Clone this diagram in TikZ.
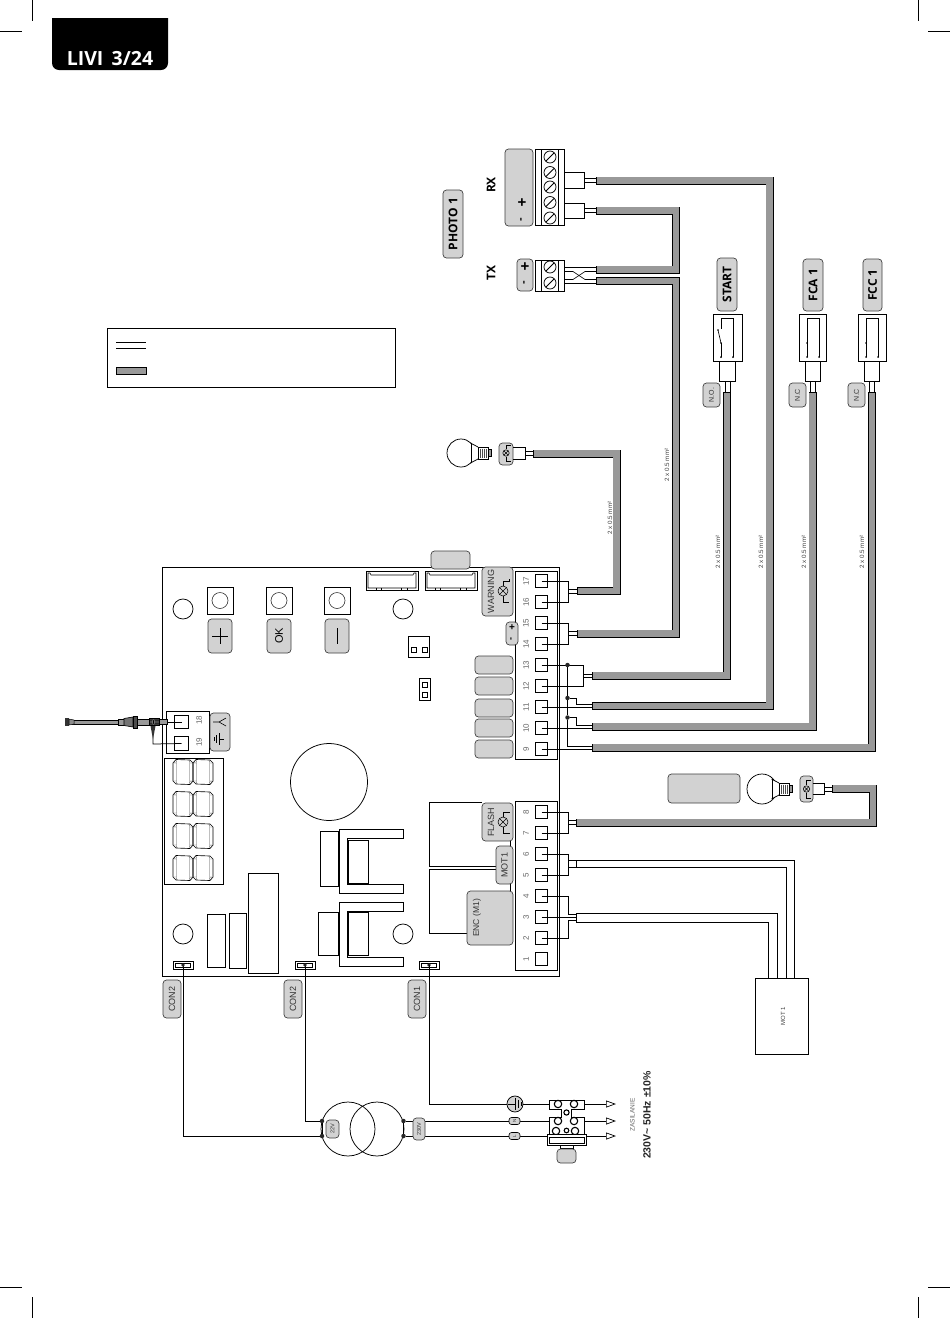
\documentclass[tikz,border=0pt]{standalone}
\usepackage{fontspec}
\setmainfont{Liberation Sans}
\newfontfamily\lato{Open Sans}
\usetikzlibrary{arrows.meta}
\definecolor{lab}{HTML}{D2D2D2}
\definecolor{cab}{HTML}{999999}
\definecolor{txt}{HTML}{333333}
\tikzset{
 ln/.style={line width=.75pt,black},
 glab/.style={draw=black!75,line width=.7pt,fill=lab,rounded corners=3.5pt},
 gtext/.style={rotate=90,inner sep=0pt,text=txt,font=\fontsize{8.5}{9}\selectfont},
 btext/.style={rotate=90,inner sep=0pt,text=black,font=\lato\bfseries\fontsize{12}{13}\selectfont},
 num/.style={rotate=90,inner sep=0pt,text=black!60,font=\fontsize{8}{8}\selectfont},
 sect/.style={rotate=90,inner sep=0pt,text=black!75,font=\fontsize{6.2}{7}\selectfont},
 term/.style={draw=black,line width=.75pt,fill=white,minimum size=12.5pt,inner sep=0pt},
 dot/.style={circle,fill=black!85,inner sep=0pt,minimum size=4.5pt},
 opentip/.style={-{Triangle[open,length=10pt,width=7pt,line width=.7pt]}},
 cabo/.style={line width=8pt,black,miter limit=10},
 cabi/.style={line width=6.6pt,cab,shorten <=.7pt,shorten >=.7pt,miter limit=10},
}
\newcommand{\cabl}[1]{\draw[cabo] #1; \draw[cabi] #1;}
\newcommand{\glab}[7]{\path[glab] (#2,#3) rectangle (#4,#5) node[midway,#6] (#1) {#7};}
\newcommand{\lampsym}[3]{%
 \draw[ln,line width=.55pt] (#1,#2) circle (#3);
 \draw[ln,line width=.45pt] (#1,#2)++(-.7*#3,-.7*#3) -- ++(1.4*#3,1.4*#3) (#1,#2)++(-.7*#3,.7*#3) -- ++(1.4*#3,-1.4*#3);}
\newcommand{\bulb}[3]{%
 \begin{scope}[shift={(#1,#2)}]
  \draw[ln,fill=white] (0,0) circle (#3);
  \fill[white] (10,-9) -- (17,-6) -- (17,6) -- (10,9) -- cycle;
  \draw[ln] (9.5,-10) -- (17,-6) (9.5,10) -- (17,6);
  \draw[ln,line width=.6pt] (10,-10) -- (10,10);
  \draw[ln,fill=white] (17,-6) rectangle (27,6);
  \foreach \q in {19,21,23,25} \draw[line width=.6pt,black!70] (\q,-4.5) -- (\q,4.5);
  \draw[ln,fill=black!40] (27,-3.5) rectangle (30,3.5);
 \end{scope}}
\newcommand{\digit}[2]{%
 \begin{scope}[shift={(#1,#2)}]
  \draw[ln,line width=.65pt] (-7,-12.5) -- (7,-12) -- (10,-9) -- (10,9) -- (7,12.5) -- (-7,12) -- (-10,9) -- (-10,-9) -- cycle;
  \draw[line width=.45pt,black!70] (-6.5,-9) -- (-6.5,9) (6.5,-9) -- (6.5,9) (-10,-9.3) -- (-7,-9) (7,-9) -- (10,-9) (-10,9) -- (-7,9) (7,9) -- (10,9.3);
  \draw[line width=.45pt,black!70] (-7,-12) -- (-6.5,-9.5) (7,-12) -- (6.5,-9.5) (-7,12) -- (-6.5,9.5) (7,12) -- (6.5,9.5);
 \end{scope}}
\newcommand{\consm}[1]{%
 \begin{scope}[shift={(#1,965)}]
  \draw[ln] (-10,-4) rectangle (10,4);
  \draw[ln,line width=.5pt] (-7.5,-1.5) -- (7.5,-1.5) -- (7.5,2) -- (-7.5,2) -- cycle;
 \end{scope}}
\newcommand{\contop}[1]{%
 \begin{scope}[shift={(#1,571)}]
  \draw[ln] (0,0) rectangle (52,19);
  \draw[ln,line width=.6pt] (2,2) -- (4,2) -- (5,4) -- (47,4) -- (48,2) -- (50,2) -- (50,17) -- (2,17) -- cycle;
  \draw[ln,line width=.5pt] (10,17) -- (10,19) (15,17) -- (15,19) (35,17) -- (35,19) (41,17) -- (41,19);
 \end{scope}}
\newcommand{\switchbox}[7]{%
 \draw[ln] (#2,314) rectangle (#3,361);
 \coordinate (#1a) at ({#2+8},357); \coordinate (#1b) at ({#2+20},357);
 \draw[ln,line width=.65pt] (#1a) -- ({#2+8},343);
 \draw[ln,line width=.65pt] (#1b) -- ({#2+20},318) -- ({#2+8},318) -- ({#2+8},329);
 \fill (#1a) circle (1pt) (#1b) circle (1pt) ({#2+8},343) circle (.9pt);
 \draw[ln] (#4,361) -- (#4,381) -- (#5,381) -- (#5,361);
 \draw[ln] (#6,381) -- (#6,392) (#7,381) -- (#7,392);
 }
\begin{document}
\begin{tikzpicture}[x=1pt,y=-1pt]
\useasboundingbox (0,0) rectangle (950,1318);
\fill[white] (0,0) rectangle (950,1318);

% crop marks
\foreach \a/\b/\c/\d in {0/31/22/31,32/0/32/21,928/31/950/31,918/0/918/21,0/1287/22/1287,32/1297/32/1318,928/1287/950/1287,918/1297/918/1318}
 \draw[line width=.5pt] (\a,\b) -- (\c,\d);

% title tab
\fill[black] (52,18) -- (168,18) -- (168,63) arc[start angle=0,end angle=90,radius=7] -- (59,70) arc[start angle=90,end angle=180,radius=7] -- cycle;
\node[text=white,inner sep=0pt,font=\lato\bfseries\fontsize{19.5}{20}\selectfont] (title) at (110,58.5) {LIVI\, 3/24};

% legend
\draw[ln] (107,328) rectangle (395,387);
\draw[ln] (116,342) -- (146,342) (116,348) -- (146,348);
\cabl{(116,371) -- (147,371)}

% PCB
\draw[ln,fill=white] (162,567) rectangle (559.5,976);
\path[glab] (431,551) rectangle (470,569) node[midway,inner sep=0pt] (tab) {};
\contop{366}\contop{425}

% holes
\foreach \n/\x/\y in {h1/183/609,h2/403/609,h3/183/934,h4/403/934}
 \node[draw=black,line width=.75pt,circle,minimum size=20pt,inner sep=0pt] (\n) at (\x,\y) {};
\node[draw=black,line width=.75pt,circle,minimum size=77pt,inner sep=0pt] (bigcap) at (329,782) {};

% buttons
\foreach \n/\x in {ba/220,bb/279,bc/337}{
 \node[draw=black,line width=.75pt,minimum width=26pt,minimum height=27pt,inner sep=0pt] (\n) at (\x,600.5) {};
 \draw[line width=.6pt,black!80] (\x,600.5) circle (8);
}
\glab{bp}{208}{619}{232}{653}{inner sep=0}{}
\glab{bo}{267}{619}{291}{653}{rotate=90,inner sep=0pt,font=\fontsize{11}{11}\selectfont}{OK}
\glab{bm}{325}{619}{349}{653}{inner sep=0}{}
\draw[line width=.6pt] (212,636) -- (228,636) (220,628) -- (220,644);
\draw[line width=.6pt] (337,628) -- (337,644);

% jumpers
\draw[ln] (408,636) rectangle (429,657);
\draw[ln,line width=.6pt] (411,647) rectangle (416,652) (422,647) rectangle (427,652);
\draw[ln] (419.5,678) rectangle (430,700);
\draw[ln,line width=.6pt] (422,682) rectangle (427.5,687) (422,692) rectangle (427.5,697);

% relay outlines
\draw[ln] (482,802) -- (429,802) -- (429,866.5) -- (496,866.5);
\draw[ln] (496,869.5) -- (429,869.5) -- (429,933) -- (467,933);
\draw[ln] (510,841) -- (510,846) (510,884) -- (510,891);

% terminal strips
\draw[ln,fill=white] (515,571) rectangle (557,759);
\draw[ln,fill=white] (515,801) rectangle (557,970);
\foreach \n/\y in {17/581,16/602,15/623,14/644,13/665,12/686,11/707,10/728,9/749,8/812,7/833,6/854,5/875,4/896,3/917,2/938,1/959}{
 \node[term] (t\n) at (541.5,\y) {};
 \node[num] (n\n) at (526,\y) {\n};
}

% terminal labels
\glab{lwarn}{482}{567}{513}{616}{inner sep=0}{}
\node[gtext,font=\fontsize{9}{10}\selectfont] (twarn) at (491,591.5) {WARNING};
\lampsym{503}{591}{5}
\draw[line width=.6pt] (503,586) -- (503,581) -- (509.5,581) -- (509.5,579) (503,596) -- (503,602) -- (509,602);
\glab{lflash}{482}{803}{513}{841}{inner sep=0}{}
\node[gtext,font=\fontsize{9}{10}\selectfont] (tflash) at (491,822) {FLASH};
\lampsym{503}{822}{5}
\draw[line width=.6pt] (503,817) -- (503,812) -- (510,812) (503,827) -- (503,833) -- (510,833);
\glab{lmot}{496}{846}{513}{884}{gtext,font=\fontsize{9}{10}\selectfont}{MOT1}
\glab{lenc}{467}{891}{513}{945}{inner sep=0}{}
\node[gtext,font=\fontsize{8.5}{10}\selectfont] (tenc) at (477,918) {ENC (M1)};
\path[glab] (506,622) rectangle (518,645);
\node[inner sep=0pt,font=\bfseries\fontsize{10}{10}\selectfont] (lplus) at (512,628) {+};
\node[inner sep=0pt,font=\bfseries\fontsize{9}{9}\selectfont,rotate=90] (lminus) at (512,639) {-};
\foreach \n/\a/\b in {g1/656/674,g2/677/695,g3/699/717,g4/719/737,g5/740/758}
 \path[glab] (475,\a) rectangle (513,\b) node[midway,inner sep=0pt] (\n) {};

% antenna block
\draw[ln] (166,711) rectangle (209,753);
\node[term,minimum size=13.5pt] (t18) at (181.5,722) {};
\node[term,minimum size=13.5pt] (t19) at (181.5,743.5) {};
\node[num] (n18) at (199,720) {18};
\node[num] (n19) at (199,742) {19};
\glab{lant}{210}{713}{230}{751}{inner sep=0}{}
\draw[line width=.6pt] (213,722) -- (219,722) -- (226,718) (219,722) -- (226,726);
\draw[line width=.6pt] (224,739) -- (219,739) (219,733) -- (219,745) (216.5,735) -- (216.5,743) (214,737) -- (214,741);

% antenna cable
\draw[ln] (t18.center) -- (167,722);
\draw[ln] (t19.center) -- (153,744) -- (153,727);
\fill[black!80] (150.5,726) -- (155.5,726) -- (153,739) -- cycle;
\draw[line width=.6pt,fill=cab] (72,719.8) rectangle (119,724.2);
\fill[black!80] (65,718) rectangle (69,726);
\draw[line width=.5pt,fill=black!45] (69,719) -- (74,720) -- (74,724) -- (69,725) -- cycle;
\draw[line width=.6pt,fill=cab] (118,719) rectangle (124,725);
\draw[line width=.6pt,fill=black!55] (124,718.5) -- (133,717) -- (133,727) -- (124,725.5) -- cycle;
\draw[line width=.6pt,fill=black!70] (133,716) rectangle (137,728);
\draw[line width=.6pt,fill=cab] (137,719) rectangle (149,725);
\draw[line width=.6pt,fill=black!55] (149,718.5) rectangle (159,725.5);
\foreach \q in {150,152.5,155,157} \draw[line width=.4pt] (\q,718.5) -- (\q+2,725.5) (\q+2,718.5) -- (\q,725.5);
\draw[line width=.6pt,fill=cab] (159,719) rectangle (167,724.5);

% display
\draw[ln] (164,758) rectangle (223,884);
\foreach \y in {772,804,836,868}{\digit{183}{\y}\digit{203}{\y}}

% power parts
\foreach \a/\b in {829/893.5,902/966}{
 \draw[ln] (403,\a) -- (339,\a) -- (339,\b) -- (403,\b) -- ({403},{\b-9}) -- (347,{\b-9}) -- (347,{\a+9}) -- (403,{\a+9}) -- cycle;
}
\draw[ln] (320,831) rectangle (338,886);
\draw[ln] (348,840) rectangle (368,883);
\draw[ln] (318,912) rectangle (338,955);
\draw[ln] (348,912) rectangle (368,955);
\draw[ln] (207,914) rectangle (225,967);
\draw[ln] (229,913) rectangle (246,968);
\draw[ln] (248,873) rectangle (278,973);

% bottom connectors
\consm{183}\consm{305}\consm{429}
\coordinate (c1) at (183,965); \coordinate (c2) at (305,965); \coordinate (c3) at (429,965);
\glab{lc1}{163}{980}{181}{1018}{gtext,font=\fontsize{9}{9}\selectfont}{CON2}
\glab{lc2}{284}{980}{302}{1018}{gtext,font=\fontsize{9}{9}\selectfont}{CON2}
\glab{lc3}{408}{980}{426}{1018}{gtext,font=\fontsize{9}{9}\selectfont}{CON1}

% transformer
\node[draw=black,line width=.75pt,circle,minimum size=54pt,inner sep=0pt] (tr1) at (348,1129) {};
\node[draw=black,line width=.75pt,circle,minimum size=54pt,inner sep=0pt] (tr2) at (377,1129) {};
\node[dot] (d1) at (322,1121) {}; \node[dot] (d2) at (322,1136) {};
\node[dot] (d3) at (403.5,1121) {}; \node[dot] (d4) at (403.5,1136) {};
\draw[ln] (d1) -- (d2) (d3) -- (d4);
\draw[ln] (c2) |- (d1);
\draw[ln] (c1) |- (d2);
\foreach \a in {c1,c2,c3} \fill[black!85] (\a) circle (1.8);

% mains terminal block
\draw[ln,fill=white] (549,1100) -- (584,1100) -- (584,1109) -- (571,1109) -- (571,1117) -- (584,1117) -- (584,1134) -- (549,1134) -- (549,1117) -- (561,1117) -- (561,1109) -- (549,1109) -- cycle;
\coordinate (blkg) at (549,1104);
\coordinate (blkn) at (549,1121);
\coordinate (blkl) at (547,1136);
\coordinate (blkgr) at (584,1104);
\coordinate (blknr) at (584,1121);
\coordinate (blklr) at (586,1136);
\draw[ln,fill=white] (547,1134) rectangle (586,1145);
\draw[ln] (549,1137) rectangle (584,1143);
\draw[line width=1.1pt,fill=white] (558,1104) circle (3.7) (574,1104) circle (3.7) (566.5,1112.5) circle (2.6) (558,1121) circle (3.7) (574,1121) circle (3.7);
\begin{scope}
\clip (546,1124) rectangle (587,1134);
\draw[line width=1.1pt,fill=white] (556,1131) circle (3.7) (575,1131) circle (3.7) (566.5,1130.5) circle (2.3);
\end{scope}
\draw[ln] (560,1145) rectangle (573,1148);
\path[glab] (557,1149) rectangle (576,1163) node[midway,inner sep=0pt] (lblk) {};

% mains wires
\coordinate (arg) at (616,1104); \coordinate (arn) at (616,1121); \coordinate (arl) at (616,1136);
\draw[ln] (c3) |- (blkg);
\draw[ln] (d3) -- (blkn);
\draw[ln] (d4) -- (blkl);
\draw[ln,opentip] (blkgr) -- (arg);
\draw[ln,opentip] (blknr) -- (arn);
\draw[ln,opentip] (blklr) -- (arl);
\glab{l22}{326}{1120}{339}{1138}{gtext,font=\fontsize{5.5}{6}\selectfont}{22V}
\glab{l230}{413}{1118}{425}{1140}{gtext,font=\fontsize{5.5}{6}\selectfont}{230V}
\node[draw=black,line width=.75pt,fill=lab,circle,minimum size=16pt,inner sep=0pt] (gnd) at (515,1104) {};
\draw[line width=.6pt] (508,1104) -- (515,1104) (515,1098) -- (515,1110) (518,1100) -- (518,1108) (521,1102) -- (521,1106);
\node[draw=black,line width=.6pt,fill=lab,rounded corners=2.5pt,minimum width=11pt,minimum height=7pt,inner sep=0pt] (nN) at (514.5,1121) {};
\node[draw=black,line width=.6pt,fill=lab,rounded corners=2.5pt,minimum width=11pt,minimum height=7pt,inner sep=0pt] (nL) at (514.5,1136) {};
\node[gtext,font=\fontsize{4.5}{5}\selectfont] (tN) at (nN) {N};
\node[gtext,font=\fontsize{4.5}{5}\selectfont] (tL) at (nL) {L};
\node[gtext,text=black!60,font=\fontsize{6.5}{7}\selectfont] (zas) at (632.5,1115) {ZASILANIE};
\node[rotate=90,inner sep=0pt,font=\bfseries\fontsize{10.5}{11}\selectfont,text=black!85] (volt) at (647,1115) {230V\textasciitilde{} 50Hz ±10\%};

% motor box
\node[draw=black,line width=.75pt,minimum width=53pt,minimum height=76pt,inner sep=0pt] (motbox) at (781.5,1016) {};
\node[sect,font=\fontsize{6}{6}\selectfont] (motl) at (783,1016) {MOT 1};
\coordinate (mw1) at (794,978); \coordinate (mw2) at (786,978); \coordinate (mw3) at (777,978); \coordinate (mw4) at (768.5,978);
% terminal wiring 8..2
\coordinate (j87) at (568,822); \coordinate (j65) at (568,864); \coordinate (j42) at (568,917);
\draw[ln] (t8.center) -| (j87) (t7.center) -| (j87);
\draw[ln] (j87)++(0,-2) -- ++(8,0) (j87)++(0,2) -- ++(8,0);
\draw[ln] (t6.center) -| (j65) (t5.center) -| (j65);
\draw[ln] (568,860.5) -- (576,860.5) (568,867) -- (576,867);
\draw[ln] (576,860) -- (mw1 |- 576,860) -- (mw1);
\draw[ln] (576,860) -- (576,867);
\draw[ln] (576,867) -- (mw2 |- 576,867) -- (mw2);
\draw[ln] (t4.center) -| (568,914) -- (576,914);
\draw[ln] (t3.center) -- (576,917);
\draw[ln] (t2.center) -| (568,920) -- (576,920);
\draw[ln] (576,913) -- (576,922);
\draw[ln] (576,913) -- (mw3 |- 576,913) -- (mw3);
\draw[ln] (576,922) -- (mw4 |- 576,922) -- (mw4);
\cabl{(576,822.5) -- (873,822.5) -- (873,788.5) -- (832,788.5)}

% bulb 2
\path[glab] (668,774) rectangle (740,803) node[midway,inner sep=0pt] (lbul) {};
\bulb{762}{789}{15}
\glab{lsb}{800}{776}{813}{802}{inner sep=0}{}
\lampsym{806.5}{789}{3.2}
\draw[line width=.5pt] (806.5,785) -- (806.5,780) -- (811,780) (806.5,793) -- (806.5,798) -- (811,798);
\draw[ln] (813,783) -- (824,783) -- (824,794) -- (813,794);
\draw[ln] (824,787) -- (832,787) (824,791) -- (832,791);

% bulb 1
\bulb{461}{453}{14}
\glab{lsa}{499}{443}{513}{465}{inner sep=0}{}
\lampsym{506}{453}{3.2}
\draw[line width=.5pt] (506,449) -- (506,445.5) -- (511,445.5) (506,457) -- (506,461) -- (511,461);
\draw[ln] (513,447.5) -- (525,447.5) -- (525,459) -- (513,459);
\draw[ln] (525,451.5) -- (533,451.5) (525,455) -- (533,455);
\cabl{(533,453.5) -- (616.5,453.5) -- (616.5,591) -- (577,591)}

% terminal wiring 17..9
\coordinate (j17) at (568,591); \coordinate (j15) at (568,633.5); \coordinate (j13) at (583,675.5);
\draw[ln] (t17.center) -| (j17) (t16.center) -| (j17);
\draw[ln] (568,589) -- (577,589) (568,593) -- (577,593);
\draw[ln] (t15.center) -| (j15) (t14.center) -| (j15);
\draw[ln] (568,631.5) -- (577,631.5) (568,635.5) -- (577,635.5);
\draw[ln] (t13.center) -| (j13) (t12.center) -| (j13);
\draw[ln] (583,674) -- (592,674) (583,677.5) -- (592,677.5);
\node[dot] (b13) at (567.5,665) {};
\node[dot] (b11) at (567.5,698) {};
\node[dot] (b10) at (567.5,717.5) {};
\draw[ln] (b13) -- (b11) -- (b10) -- (567.5,746.5) -- (592,746.5);
\draw[ln] (b11) -- (576,698) -- (576,704.5) -- (592,704.5);
\draw[ln] (t11.center) -- (592,707);
\draw[ln] (b10) -- (576,717.5) -- (576,725) -- (592,725);
\draw[ln] (t10.center) -- (592,728);
\draw[ln] (t9.center) -- (592,749);

% cables to the right
\cabl{(577,633.5) -- (676,633.5) -- (676,281) -- (596,281)}
\cabl{(592,675.5) -- (727,675.5) -- (727,392)}
\cabl{(592,706) -- (769.5,706) -- (769.5,180.5) -- (596,180.5)}
\cabl{(592,726.5) -- (812.5,726.5) -- (812.5,392)}
\cabl{(592,747.5) -- (872,747.5) -- (872,392)}
\cabl{(596,210.5) -- (676,210.5) -- (676,269.5) -- (596,269.5)}

% cross-section labels
\node[sect] (s1) at (610,518) {2 x 0.5 mm²};
\node[sect] (s2) at (667,465) {2 x 0.5 mm²};
\node[sect] (s3) at (718,552) {2 x 0.5 mm²};
\node[sect] (s4) at (761,552) {2 x 0.5 mm²};
\node[sect] (s5) at (804,552) {2 x 0.5 mm²};
\node[sect] (s6) at (862,552) {2 x 0.5 mm²};

% switches
\switchbox{sw}{713}{742}{719}{735}{725}{730}
\draw[ln,line width=.65pt] (721,343) -- (718,330);
\fill (718,330) circle (.9pt);
\switchbox{fa}{799}{826.5}{805}{820}{810}{815}
\draw[ln,line width=.65pt] (807,343) -- (807,329);
\switchbox{fc}{858}{886}{864}{879.5}{869.5}{874.5}
\draw[ln,line width=.65pt] (866,343) -- (866,329);
\glab{lst}{717}{258}{737}{311}{btext}{START}
\glab{lfa}{803}{259}{823}{311}{btext}{FCA 1}
\glab{lfc}{863}{259}{882}{311}{btext}{FCC 1}
\glab{lno}{703}{383}{720}{407}{gtext,font=\fontsize{7}{7}\selectfont}{N.O.}
\glab{lnc}{789}{383}{806}{407}{gtext,font=\fontsize{7}{7}\selectfont}{N.C}
\glab{lnd}{848}{383}{865}{407}{gtext,font=\fontsize{7}{7}\selectfont}{N.C}

% RX / TX
\glab{lrx}{505}{149}{533}{226}{inner sep=0}{}
\node[inner sep=0pt,font=\bfseries\fontsize{15}{15}\selectfont] (rxp) at (522,203.5) {+};
\node[inner sep=0pt,font=\bfseries\fontsize{11}{11}\selectfont,rotate=90] (rxm) at (522,219.5) {-};
\glab{ltx}{517}{259}{533}{291}{inner sep=0}{}
\node[inner sep=0pt,font=\bfseries\fontsize{15}{15}\selectfont] (txp) at (525,267) {+};
\node[inner sep=0pt,font=\bfseries\fontsize{11}{11}\selectfont,rotate=90] (txm) at (525,283) {-};
\draw[ln] (535,149) rectangle (564.5,225) (541,149) -- (541,225) (558,149) -- (558,225);
\draw[ln] (535,260) rectangle (564.5,291) (541,260) -- (541,291) (558,260) -- (558,291);
\foreach \y in {157,172.5,187,202.5,218,267,283}{
 \draw[line width=.75pt,black] (550,\y) circle (6);
 \draw[line width=.8pt,black] (550,\y)++(-4,4) -- ++(8,-8);
}
\node[btext] (trx) at (491,185) {RX};
\node[btext] (ttx) at (491,273) {TX};
\glab{lph}{443}{190}{463}{258}{btext}{PHOTO 1}
\draw[ln] (564.5,172.5) -- (584,172.5) -- (584,188) -- (564.5,188);
\draw[ln] (584,178.5) -- (596,178.5) (584,182.5) -- (596,182.5);
\draw[ln] (564.5,203) -- (584,203) -- (584,218) -- (564.5,218);
\draw[ln] (584,208.5) -- (596,208.5) (584,212.5) -- (596,212.5);
\draw[ln,line width=.65pt] (564.5,267) -- (596,267) (564.5,283.5) -- (596,283.5);
\draw[ln,line width=.65pt] (564.5,271.5) -- (573,271.5) -- (585,279.5) -- (596,279.5);
\draw[ln,line width=.65pt] (564.5,279.5) -- (573,279.5) -- (585,271.5) -- (596,271.5);
\end{tikzpicture}
\end{document}
